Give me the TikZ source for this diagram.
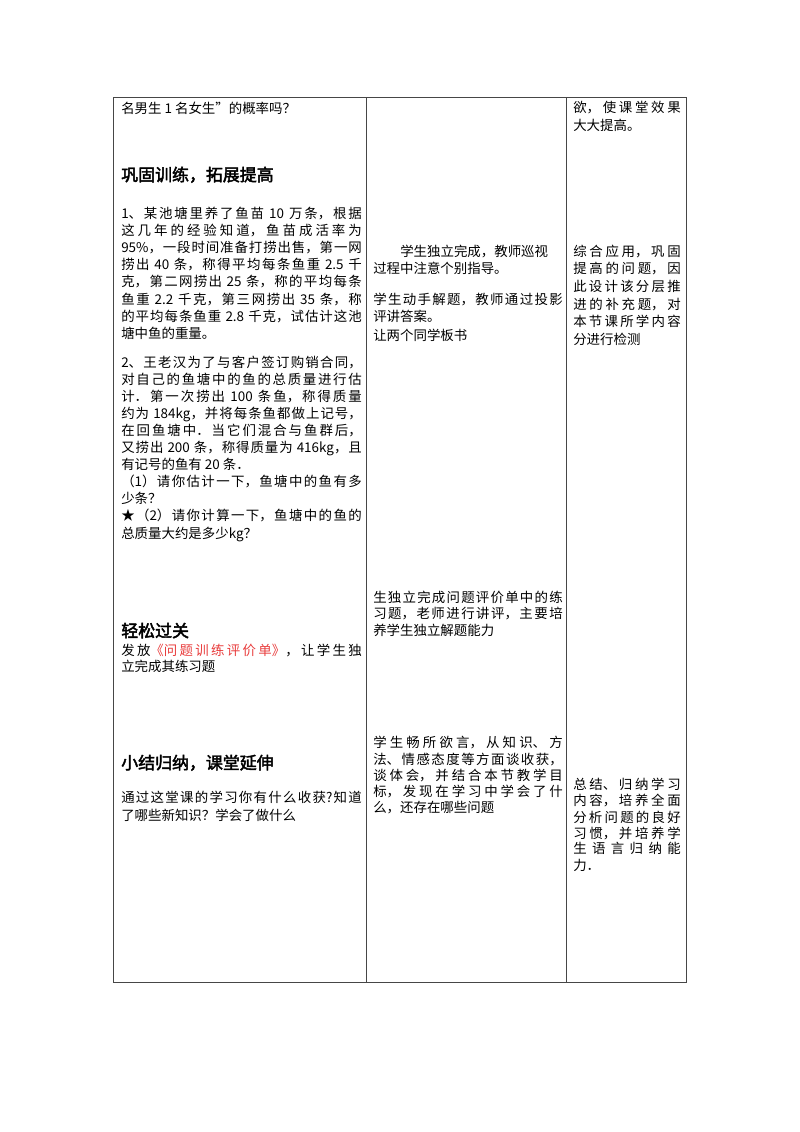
\documentclass[tikz,border=0pt]{standalone}
\usepackage{fontspec}
\setmainfont{Noto Sans CJK SC}[AutoFakeBold=2.5]
\XeTeXlinebreaklocale "zh"
\XeTeXlinebreakskip=0pt plus 1pt
\definecolor{redtxt}{RGB}{232,60,60}
\definecolor{rule}{RGB}{70,70,70}
\newcommand{\jl}[5]{\node[txt,text width=#4,align=justify] (#1) at (#2,#3) {\parfillskip=0pt #5\par};}
\newcommand{\pl}[4]{\node[txt] (#1) at (#2,#3) {#4};}
\tikzset{txt/.style={anchor=base west,inner sep=0pt,font=\fontsize{10pt}{12pt}\selectfont},
 head/.style={anchor=base west,inner sep=0pt,font=\fontsize{12.6pt}{14pt}\selectfont\bfseries},
 grid/.style={draw=rule,line width=0.6pt}}
\begin{document}
\begin{tikzpicture}[x=0.7441pt,y=-0.7441pt]
\useasboundingbox (0,0) rectangle (800,1132);
\draw[grid] (113,97) rectangle (686,982);
\draw[grid] (366,97) -- (366,982);
\draw[grid] (566,97) -- (566,982);
% column 1
\pl{a0}{121}{113}{名男生 1 名女生”的概率吗？}
\node[head] (h1) at (121,181) {巩固训练，拓展提高};
\def\cw{179pt}
\jl{p1}{121}{218}{\cw}{1、某池塘里养了鱼苗 10 万条，根据}
\jl{p2}{121}{235.2}{\cw}{这几年的经验知道，鱼苗成活率为}
\jl{p3}{121}{252.4}{\cw}{95\%，一段时间准备打捞出售，第一网}
\jl{p4}{121}{269.6}{\cw}{捞出 40 条，称得平均每条鱼重 2.5 千}
\jl{p5}{121}{286.8}{\cw}{克，第二网捞出 25 条，称的平均每条}
\jl{p6}{121}{304}{\cw}{鱼重 2.2 千克，第三网捞出 35 条，称}
\jl{p7}{121}{321.2}{\cw}{的平均每条鱼重 2.8 千克，试估计这池}
\pl{p8}{121}{338.4}{塘中鱼的重量。}
\jl{q1}{121}{367}{\cw}{2、王老汉为了与客户签订购销合同，}
\jl{q2}{121}{384.1}{\cw}{对自己的鱼塘中的鱼的总质量进行估}
\jl{q3}{121}{401.2}{\cw}{计．第一次捞出 100 条鱼，称得质量}
\jl{q4}{121}{418.3}{\cw}{约为 184kg，并将每条鱼都做上记号，}
\jl{q5}{121}{435.4}{\cw}{在回鱼塘中．当它们混合与鱼群后，}
\jl{q6}{121}{452.5}{\cw}{又捞出 200 条，称得质量为 416kg，且}
\pl{q7}{121}{469.6}{有记号的鱼有 20 条．}
\jl{q8}{121}{486.7}{\cw}{（1）请你估计一下，鱼塘中的鱼有多}
\pl{q9}{121}{503.8}{少条？}
\jl{q10}{121}{520.9}{\cw}{★（2）请你计算一下，鱼塘中的鱼的}
\pl{q11}{121}{538}{总质量大约是多少kg？}
\node[head] (h2) at (121,637) {轻松过关};
\jl{r1}{121}{655}{\cw}{发放{\color{redtxt}《问题训练评价单》}，让学生独}
\pl{r2}{121}{671}{立完成其练习题}
\node[head] (h3) at (121,769) {小结归纳，课堂延伸};
\jl{s1}{121}{802}{\cw}{通过这堂课的学习你有什么收获?知道}
\pl{s2}{121}{820}{了哪些新知识？学会了做什么}
% column 2
\def\mw{141pt}
\pl{b1}{400}{256}{学生独立完成，教师巡视}
\pl{b2}{373}{273}{过程中注意个别指导。}
\jl{b3}{373}{304}{\mw}{学生动手解题，教师通过投影}
\pl{b4}{373}{321}{评讲答案。}
\pl{b5}{373}{340}{让两个同学板书}
\jl{c1}{373}{602}{\mw}{生独立完成问题评价单中的练}
\jl{c2}{373}{618}{\mw}{习题，老师进行讲评，主要培}
\pl{c3}{373}{635}{养学生独立解题能力}
\jl{d1}{373}{747}{\mw}{学生畅所欲言，从知识、方}
\jl{d2}{373}{764}{\mw}{法、情感态度等方面谈收获，}
\jl{d3}{373}{780}{\mw}{谈体会，并结合本节教学目}
\jl{d4}{373}{796}{\mw}{标，发现在学习中学会了什}
\pl{d5}{373}{812}{么，还存在哪些问题}
% column 3
\def\rw{80pt}
\jl{e1}{573}{112}{\rw}{欲，使课堂效果}
\pl{e2}{573}{130}{大大提高。}
\jl{f1}{573}{256}{\rw}{综合应用，巩固}
\jl{f2}{573}{273}{\rw}{提高的问题，因}
\jl{f3}{573}{291}{\rw}{此设计该分层推}
\jl{f4}{573}{309}{\rw}{进的补充题，对}
\jl{f5}{573}{326}{\rw}{本节课所学内容}
\pl{f6}{573}{344}{分进行检测}
\jl{g1}{573}{789}{\rw}{总结、归纳学习}
\jl{g2}{573}{805}{\rw}{内容，培养全面}
\jl{g3}{573}{822}{\rw}{分析问题的良好}
\jl{g4}{573}{838}{\rw}{习惯，并培养学}
\jl{g5}{573}{853}{\rw}{生语言归纳能}
\pl{g6}{573}{870}{力．}
\end{tikzpicture}
\end{document}
